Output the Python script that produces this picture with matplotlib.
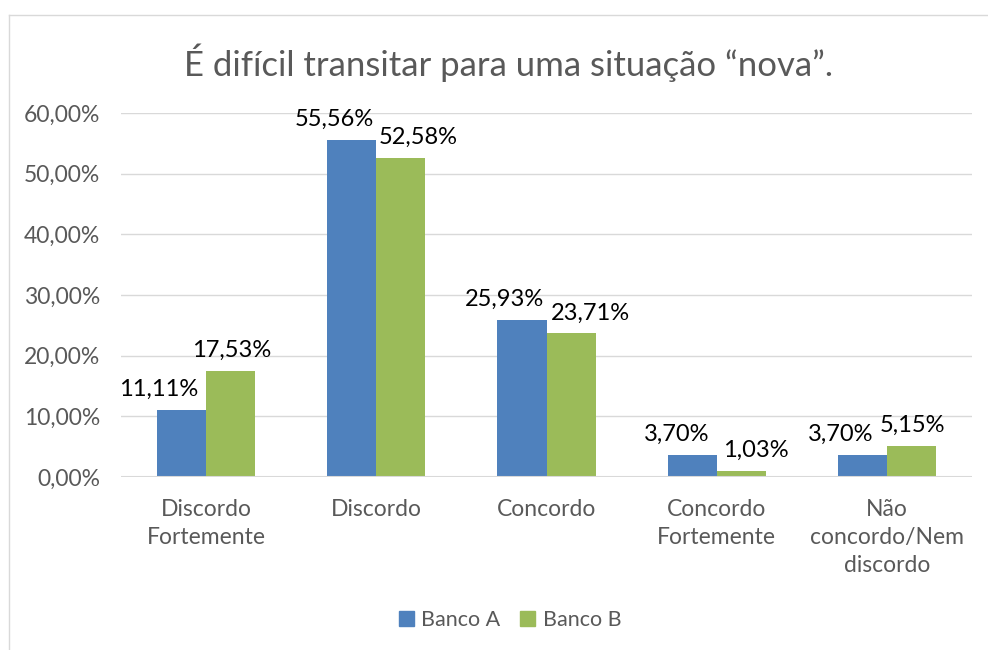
import matplotlib
matplotlib.use('Agg')
import matplotlib.pyplot as plt
from matplotlib.lines import Line2D
from matplotlib.patches import Patch
import numpy as np

plt.rcParams['font.family'] = ['Lato', 'DejaVu Sans']

# ----- data -----
categories = ['Discordo\nFortemente', 'Discordo', 'Concordo', 'Concordo\nFortemente',
              'Não\nconcordo/Nem\ndiscordo']
banco_a = [11.11, 55.56, 25.93, 3.70, 3.70]
banco_b = [17.53, 52.58, 23.71, 1.03, 5.15]
series_names = ['Banco A', 'Banco B']
yticks = [0, 10, 20, 30, 40, 50, 60]

# label offsets in pixels (Excel nudged some labels sideways)
dx_a = [-23, -17, -17, -16, -22]
dx_b = [1, 17, 19, 15, 1]

blue = '#4F81BD'
green = '#9BBB59'
gray_txt = '#595959'
grid_col = '#D9D9D9'

W, H = 988, 650
fig = plt.figure(figsize=(W / 100, H / 100), dpi=100)

# chart border (only left/top visible in the crop)
fig.add_artist(Line2D([9 / W, 9 / W], [0, 1 - 15 / H], transform=fig.transFigure, color=grid_col, lw=1))
fig.add_artist(Line2D([9 / W, 1], [1 - 15 / H, 1 - 15 / H], transform=fig.transFigure, color=grid_col, lw=1))

ax = fig.add_axes([121 / W, 1 - 477 / H, (972 - 121) / W, (477 - 113) / H])

x = np.arange(len(categories))
w = 0.288
bars_a = ax.bar(x - w / 2, banco_a, w, color=blue, zorder=3)
bars_b = ax.bar(x + w / 2, banco_b, w, color=green, zorder=3)

ax.set_xlim(-0.5, len(categories) - 0.5)
ax.set_ylim(0, 60)
ax.set_yticks(yticks)
ax.set_yticklabels(['%d,00%%' % t for t in yticks], fontsize=16.5, color=gray_txt)
ax.set_xticks(x)
ax.set_xticklabels(categories, fontsize=16.5, color=gray_txt, linespacing=1.4)
ax.tick_params(length=0)
ax.tick_params(axis='y', pad=15)
ax.tick_params(axis='x', pad=16)
ax.grid(axis='y', color=grid_col, lw=1, zorder=0)
for s in ax.spines.values():
    s.set_visible(False)
ax.axhline(0, color=grid_col, lw=1.5, zorder=4)

for bars, vals, dxs in ((bars_a, banco_a, dx_a), (bars_b, banco_b, dx_b)):
    for b, v, d in zip(bars, vals, dxs):
        ax.annotate(('%.2f%%' % v).replace('.', ','),
                    (b.get_x() + b.get_width() / 2, v),
                    xytext=(d * 0.72, 7), textcoords='offset points',
                    ha='center', va='bottom', fontsize=17, color='black')

fig.text(508 / W, 1 - 63 / H, 'É difícil transitar para uma situação “nova”.',
         ha='center', va='center', fontsize=25, color=gray_txt)

handles = [Patch(color=blue), Patch(color=green)]
fig.legend(handles, series_names, loc='center', bbox_to_anchor=(510 / W, 1 - 620 / H),
           ncol=2, frameon=False, fontsize=15.5, handlelength=0.7, handleheight=0.7,
           handletextpad=0.35, columnspacing=0.9, labelcolor=gray_txt)

fig.savefig('out.png', dpi=100)
